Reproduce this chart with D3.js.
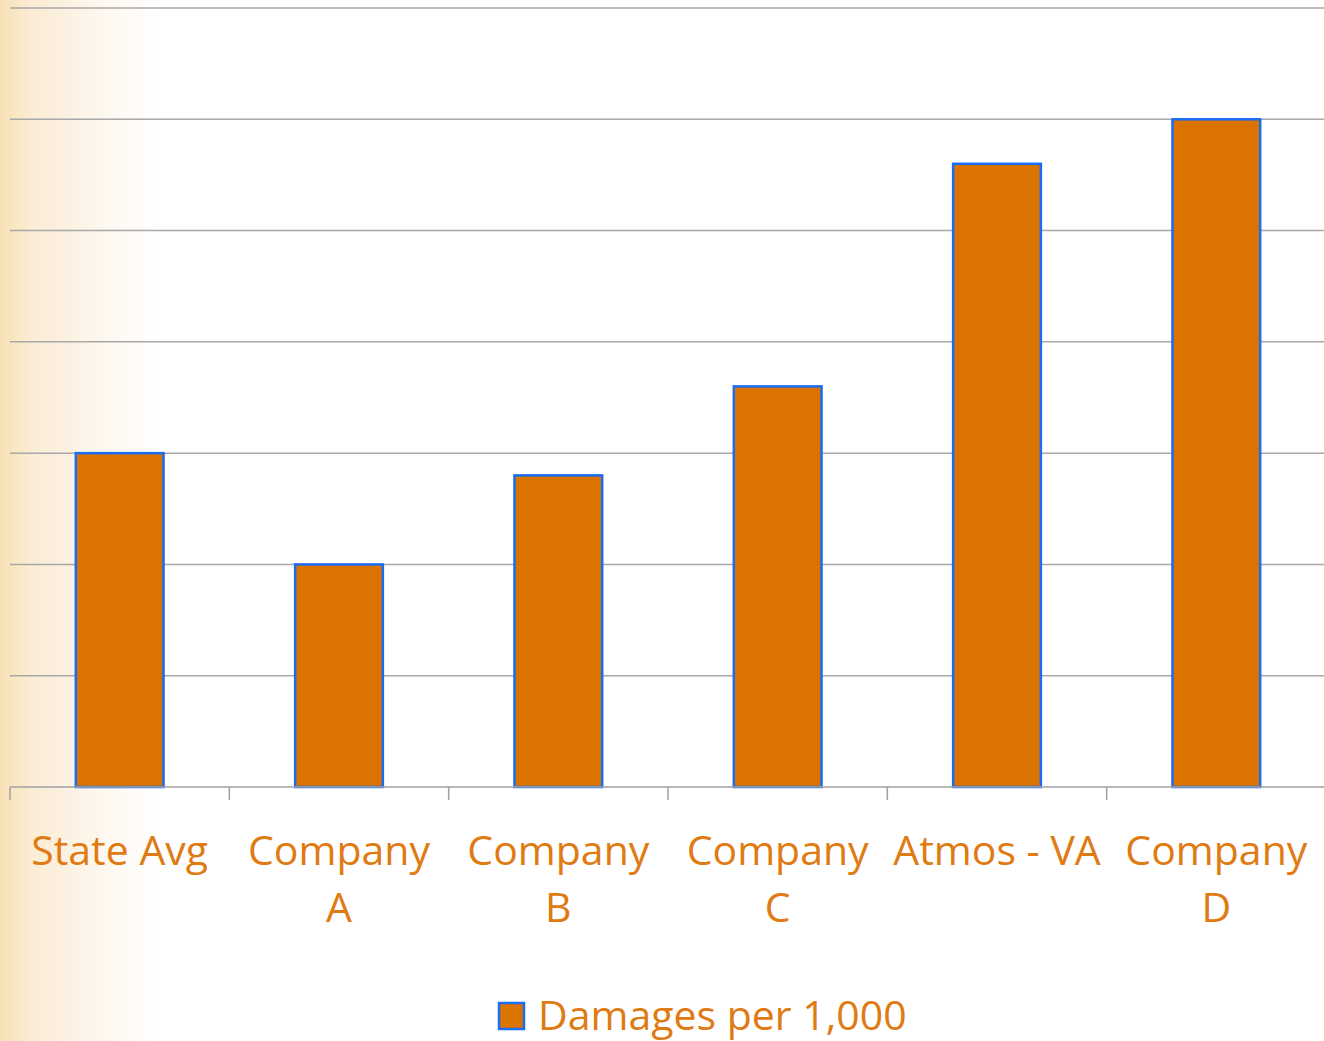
<!DOCTYPE html>
<html>
<head>
<meta charset="utf-8">
<script src="https://cdn.jsdelivr.net/npm/d3@7/dist/d3.min.js"></script>
<style>
html,body{margin:0;padding:0;background:#fff;}
svg{display:block;}
</style>
</head>
<body>
<svg id="chart" width="1324" height="1041"></svg>
<script>
const categories = ["State Avg", "Company A", "Company B", "Company C", "Atmos - VA", "Company D"];
const values = [3.0, 2.0, 2.8, 3.6, 5.6, 6.0];
const seriesName = "Damages per 1,000";
const yTicks = [0, 1, 2, 3, 4, 5, 6, 7];

const W = 1324, H = 1041;
const margin = {left: 10, right: -2, top: 8, bottom: 254};
const svg = d3.select("#chart");

const defs = svg.append("defs");
const grad = defs.append("linearGradient").attr("id", "bg").attr("x1", "0").attr("x2", "1").attr("y1", "0").attr("y2", "0");
grad.append("stop").attr("offset", "0").attr("stop-color", "#f8e1b6");
grad.append("stop").attr("offset", "0.025").attr("stop-color", "#fbecd4");
grad.append("stop").attr("offset", "0.07").attr("stop-color", "#fdf6ec");
grad.append("stop").attr("offset", "0.12").attr("stop-color", "#ffffff");
grad.append("stop").attr("offset", "1").attr("stop-color", "#ffffff");
svg.append("rect").attr("width", W).attr("height", H).attr("fill", "url(#bg)");

const xb = d3.scaleBand().domain(categories).range([margin.left, W - margin.right]);
const y = d3.scaleLinear().domain([0, 7]).range([H - margin.bottom, margin.top]);

const orange = "#da7300";
const textOrange = "#e07a12";

// gridlines
svg.append("g").selectAll("line").data(yTicks.filter(t => t > 0)).join("line")
  .attr("x1", margin.left).attr("x2", W)
  .attr("y1", d => y(d)).attr("y2", d => y(d))
  .attr("stroke", "#a8a8a8").attr("stroke-width", 1.5);

// bars
svg.append("g").selectAll("rect").data(categories).join("rect")
  .attr("x", d => xb(d) + xb.bandwidth()/2 - xb.bandwidth()*0.2)
  .attr("width", xb.bandwidth()*0.4)
  .attr("y", (d, i) => y(values[i]))
  .attr("height", (d, i) => y(0) - y(values[i]))
  .attr("fill", orange)
  .attr("stroke", "#1a6cf5").attr("stroke-width", 2.5);

// x axis
const base = y(0);
svg.append("line").attr("x1", margin.left).attr("x2", W).attr("y1", base).attr("y2", base)
  .attr("stroke", "#a0a0a0").attr("stroke-width", 1.5);
const bounds = categories.map(c => xb(c));
svg.append("g").selectAll("line").data(bounds).join("line")
  .attr("x1", d => d).attr("x2", d => d).attr("y1", base).attr("y2", base + 13)
  .attr("stroke", "#a0a0a0").attr("stroke-width", 1.5);

// labels with wrapping
const labels = svg.append("g").attr("font-family", "'Open Sans', sans-serif").attr("font-size", 41).attr("fill", textOrange).attr("text-anchor", "middle");
categories.forEach(c => {
  const cx = xb(c) + xb.bandwidth()/2;
  const t = labels.append("text").attr("x", cx).attr("y", base + 78);
  const words = c.split(" ");
  let line = [];
  let tspan = t.append("tspan").attr("x", cx).attr("dy", 0);
  words.forEach(w => {
    line.push(w);
    tspan.text(line.join(" "));
    if (tspan.node().getComputedTextLength() > xb.bandwidth() - 9 && line.length > 1) {
      line.pop();
      tspan.text(line.join(" "));
      line = [w];
      tspan = t.append("tspan").attr("x", cx).attr("dy", 57).text(w);
    }
  });
});

// legend
const lg = svg.append("g");
lg.append("rect").attr("x", 499).attr("y", 1003).attr("width", 25).attr("height", 26)
  .attr("fill", orange).attr("stroke", "#1a6cf5").attr("stroke-width", 2.5);
lg.append("text").attr("x", 538).attr("y", 1030)
  .attr("font-family", "'Open Sans', sans-serif").attr("font-size", 41).attr("fill", textOrange)
  .text(seriesName);
</script>
</body>
</html>
